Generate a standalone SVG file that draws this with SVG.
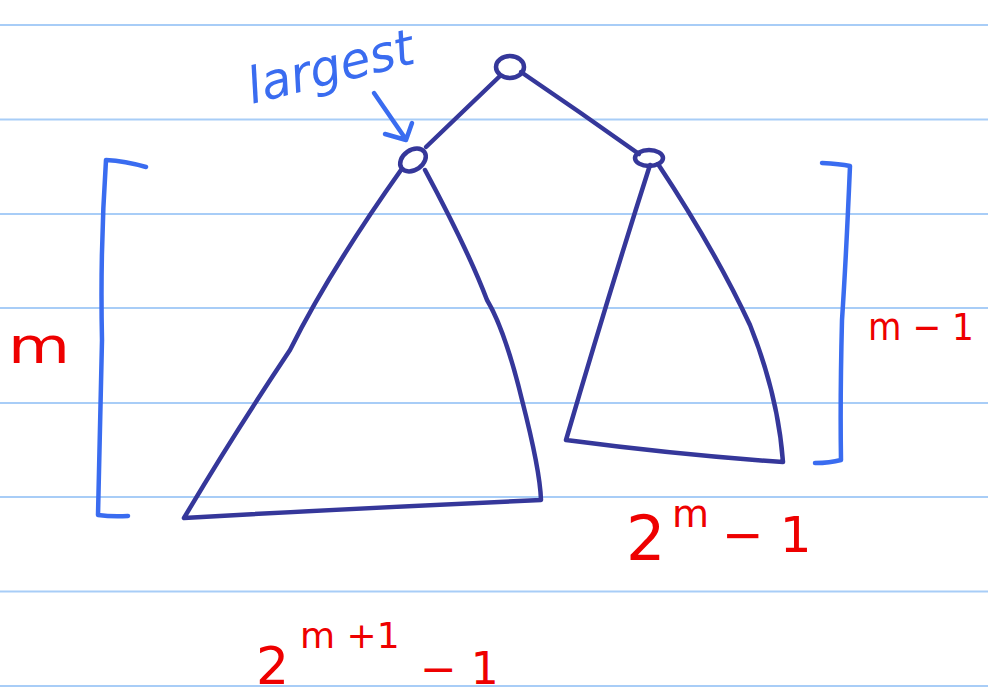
<svg xmlns="http://www.w3.org/2000/svg" width="988" height="699" viewBox="0 0 988 699">
<style>
.rule{stroke:#a8cdf7;stroke-width:2}
.tree{fill:none;stroke:#35379a;stroke-width:4.5;stroke-linecap:round;stroke-linejoin:round}
.blue{fill:none;stroke:#3a6cf0;stroke-width:4.5;stroke-linecap:round;stroke-linejoin:round}
.red{fill:#ee0000;font-family:"DejaVu Sans","Liberation Sans",sans-serif}
.lbl{fill:#3a6cf0;font-family:"DejaVu Sans","Liberation Sans",sans-serif}
</style>
<rect width="988" height="699" fill="#ffffff"/>
<g id="rules">
<line class="rule" x1="0" y1="25" x2="988" y2="25"/>
<line class="rule" x1="0" y1="119.5" x2="988" y2="119.5"/>
<line class="rule" x1="0" y1="214" x2="988" y2="214"/>
<line class="rule" x1="0" y1="308" x2="988" y2="308"/>
<line class="rule" x1="0" y1="403" x2="988" y2="403"/>
<line class="rule" x1="0" y1="497" x2="988" y2="497"/>
<line class="rule" x1="0" y1="591.5" x2="988" y2="591.5"/>
<line class="rule" x1="0" y1="686" x2="988" y2="686"/>
</g>
<g id="connectors">
<path class="tree" d="M500 76 L426 147"/>
<path class="tree" d="M521 72 Q580 112 639 154"/>
</g>
<g id="root">
<ellipse class="tree" cx="510" cy="67" rx="14" ry="11"/>
</g>
<g id="left-subtree">
<ellipse class="tree" cx="413" cy="160" rx="14" ry="10" transform="rotate(-35 413 160)"/>
<path class="tree" d="M401 170 Q330 270 290 350 Q230 440 184 518 Q360 508 541 500 Q540 470 522 400 Q505 330 487 300 Q468 250 425 170"/>
</g>
<g id="right-subtree">
<ellipse class="tree" cx="649" cy="158" rx="14" ry="8"/>
<path class="tree" d="M650 165 Q610 290 566 440 Q680 455 783 462 Q778 395 750 325 Q715 250 658 164"/>
</g>
<g id="bracket-left">
<path class="blue" d="M146 167 Q125 161 106 160 Q100 250 102 340 Q100 430 98 515 Q112 517 128 516"/>
</g>
<g id="bracket-right">
<path class="blue" d="M822 163 Q840 164 850 166 Q846 260 842 320 Q840 400 841 460 Q830 463 815 463"/>
</g>
<g id="largest">
<text class="lbl" x="252" y="104" font-size="50" textLength="170" lengthAdjust="spacingAndGlyphs" transform="rotate(-14 252 104)" font-style="italic">largest</text>
<path class="blue" d="M374 93 L405 138 M385 134 L406 140 L412 123"/>
</g>
<g id="labels">
<text class="red" x="8" y="363" font-size="50" textLength="62" lengthAdjust="spacingAndGlyphs">m</text>
<text class="red" x="868" y="340" font-size="38" textLength="106" lengthAdjust="spacingAndGlyphs">m − 1</text>
<text class="red" x="626" y="560" font-size="62">2</text>
<text class="red" x="672" y="527" font-size="38">m</text>
<text class="red" x="722" y="552" font-size="50">− 1</text>
<text class="red" x="256" y="684" font-size="52">2</text>
<text class="red" x="300" y="648" font-size="36">m +1</text>
<text class="red" x="420" y="684" font-size="44">− 1</text>
</g>
</svg>
